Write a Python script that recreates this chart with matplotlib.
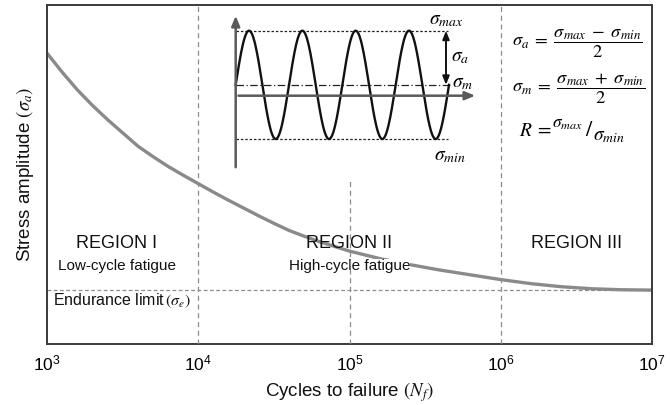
import numpy as np
import matplotlib
matplotlib.use("Agg")
import matplotlib.pyplot as plt

plt.rcParams['font.family'] = ['Liberation Sans', 'DejaVu Sans']
plt.rcParams['mathtext.fontset'] = 'stix'

# ---- data ----
log_cycles = [3.0, 3.1, 3.2, 3.3, 3.4, 3.5, 3.6, 3.7, 3.8, 3.9, 4.0, 4.1, 4.2, 4.3, 4.4,
              4.5, 4.6, 4.7, 4.8, 4.9, 5.0, 5.2, 5.4, 5.6, 5.8, 6.0, 6.2, 6.4, 6.6, 6.8, 7.0]
stress_amp = [85.8, 80.2, 75.0, 70.4, 66.2, 62.3, 58.4, 55.3, 52.4, 49.8, 47.3, 44.8, 42.4,
              40.1, 37.8, 35.6, 33.5, 31.8, 30.2, 28.8, 27.4, 25.2, 23.4, 21.8, 20.4, 19.0,
              17.8, 16.9, 16.3, 16.0, 15.9]
endurance_limit = 15.9
region_bounds = [1e4, 1e5, 1e6]
tick_positions = [1e3, 1e4, 1e5, 1e6, 1e7]
tick_labels = [r'$\mathregular{10^{3}}$', r'$\mathregular{10^{4}}$', r'$\mathregular{10^{5}}$',
               r'$\mathregular{10^{6}}$', r'$\mathregular{10^{7}}$']
region_titles = ['REGION I', 'REGION II', 'REGION III']
region_subtitles = ['Low-cycle fatigue', 'High-cycle fatigue', '']
region_centers = [10**3.46, 1e5, 10**6.5]

# inset schematic parameters
n_cycles = 4
sig_max_v, sig_min_v, sig_mean_v = 22.7, 131.0, 76.85

PX = 3.39  # pixels per y unit


def yv(py):
    return 100 - (py - 5) / PX


fig = plt.figure(figsize=(6.7, 4.05), dpi=100)
ax = fig.add_axes([47/670, 1-344/405, (652-47)/670, (344-5)/405])
ax.set_xscale('log')
ax.set_xlim(1e3, 1e7)
ax.set_ylim(0, 100)
ax.set_yticks([])
ax.set_xticks(tick_positions)
ax.set_xticklabels(tick_labels, fontsize=12.5)
ax.minorticks_off()
ax.tick_params(axis='x', length=0, pad=7)
for s in ax.spines.values():
    s.set_color('#3a3a3a')
    s.set_linewidth(1.4)

gc = '#8c8c8c'
ax.axvline(region_bounds[0], color=gc, lw=0.9, ls=(0, (4, 3)), zorder=4)
ax.axvline(region_bounds[2], color=gc, lw=0.9, ls=(0, (4, 3)), zorder=4)
ax.plot([region_bounds[1], region_bounds[1]], [0, yv(178)], color=gc, lw=0.9,
        ls=(0, (4, 3)), zorder=4)
ax.axhline(endurance_limit, color=gc, lw=0.9, ls=(0, (3, 2)), zorder=1)

ax.plot(10**np.array(log_cycles), stress_amp, color='#8a8a8a', lw=2.4, zorder=2,
        solid_capstyle='round')

for xc, t, st in zip(region_centers, region_titles, region_subtitles):
    ax.text(xc, yv(243), t, ha='center', va='center', fontsize=13, color='#111111', zorder=3)
    if st:
        ax.text(xc, yv(266), st, ha='center', va='center', fontsize=11, color='#111111', zorder=3,
                bbox=dict(facecolor='white', edgecolor='none', pad=0.0))

ax.text(1.1e3, endurance_limit - 3.3, r'Endurance limit$\,(\sigma_e)$', ha='left', va='center',
        fontsize=11.5, color='#111111')

ax.set_xlabel(r'Cycles to failure $(N_f)$', fontsize=13.5, labelpad=5, color='#111111')
ax.set_ylabel(r'Stress amplitude $(\sigma_a)$', fontsize=13.5, labelpad=8, color='#111111')

# formulas
fx = 10**((512 - 47) / 151.25 + 3)
ax.text(fx, yv(44), r'$\sigma_a\;=\;\dfrac{\sigma_{max}\;-\;\sigma_{min}}{2}$',
        ha='left', va='center', fontsize=13.3)
ax.text(fx, yv(89), r'$\sigma_m\;=\;\dfrac{\sigma_{max}\;+\;\sigma_{min}}{2}$',
        ha='left', va='center', fontsize=13.3)
rx = 10**((519 - 47) / 151.25 + 3)
ax.annotate(r'$R\;=$', xy=(rx, yv(131)), ha='left', va='center', fontsize=14)
ax.annotate(r'$\sigma_{max}$', xy=(rx, yv(131)), xytext=(24, 5), textcoords='offset points',
            ha='left', va='center', fontsize=12.5)
ax.annotate(r'$/$', xy=(rx, yv(131)), xytext=(47.5, 0), textcoords='offset points',
            ha='left', va='center', fontsize=16)
ax.annotate(r'$\sigma_{min}$', xy=(rx, yv(131)), xytext=(53, -4), textcoords='offset points',
            ha='left', va='center', fontsize=14)

# inset schematic
ia = fig.add_axes([228/670, 1-178/405, 250/670, 170/405])
ia.set_xlim(0, 250)
ia.set_ylim(170, 0)
ia.axis('off')
ia.patch.set_visible(True)
ia.set_facecolor('white')
ia.set_zorder(5)
ac = '#5a5a5a'
ia.annotate('', xy=(7.7, 5), xytext=(7.7, 162),
            arrowprops=dict(arrowstyle='-|>,head_length=0.6,head_width=0.25', color=ac, lw=1.8))
ia.annotate('', xy=(250, 87.7), xytext=(7.7, 87.7),
            arrowprops=dict(arrowstyle='-|>,head_length=0.6,head_width=0.25', color=ac, lw=1.8))
ia.plot([7.7, 220], [sig_max_v, sig_max_v], color='#222222', lw=0.9, ls=(0, (2, 1.5)))
ia.plot([7.7, 220], [sig_min_v, sig_min_v], color='#222222', lw=0.9, ls=(0, (2, 1.5)))
ia.plot([7.7, 222], [sig_mean_v, sig_mean_v], color='#222222', lw=0.9, ls=(0, (6, 2, 1, 2)))
u = np.linspace(7.7, 221, 400)
amp = (sig_min_v - sig_max_v) / 2
ia.plot(u, sig_mean_v - amp*np.sin(2*np.pi*n_cycles*(u-7.7)/(221-7.7)), color='#111111', lw=1.7)
ia.annotate('', xy=(218, sig_max_v), xytext=(218, sig_mean_v),
            arrowprops=dict(arrowstyle='<|-|>,head_length=0.5,head_width=0.2', color='#111111', lw=1.4,
                            shrinkA=0, shrinkB=0))
ia.text(218, 12, r'$\sigma_{max}$', ha='center', va='center', fontsize=14)
ia.text(223, 49, r'$\sigma_a$', ha='left', va='center', fontsize=14)
ia.text(224, 75, r'$\sigma_m$', ha='left', va='center', fontsize=14)
ia.text(222, 148, r'$\sigma_{min}$', ha='center', va='center', fontsize=14)

fig.savefig('out.png', dpi=100)
